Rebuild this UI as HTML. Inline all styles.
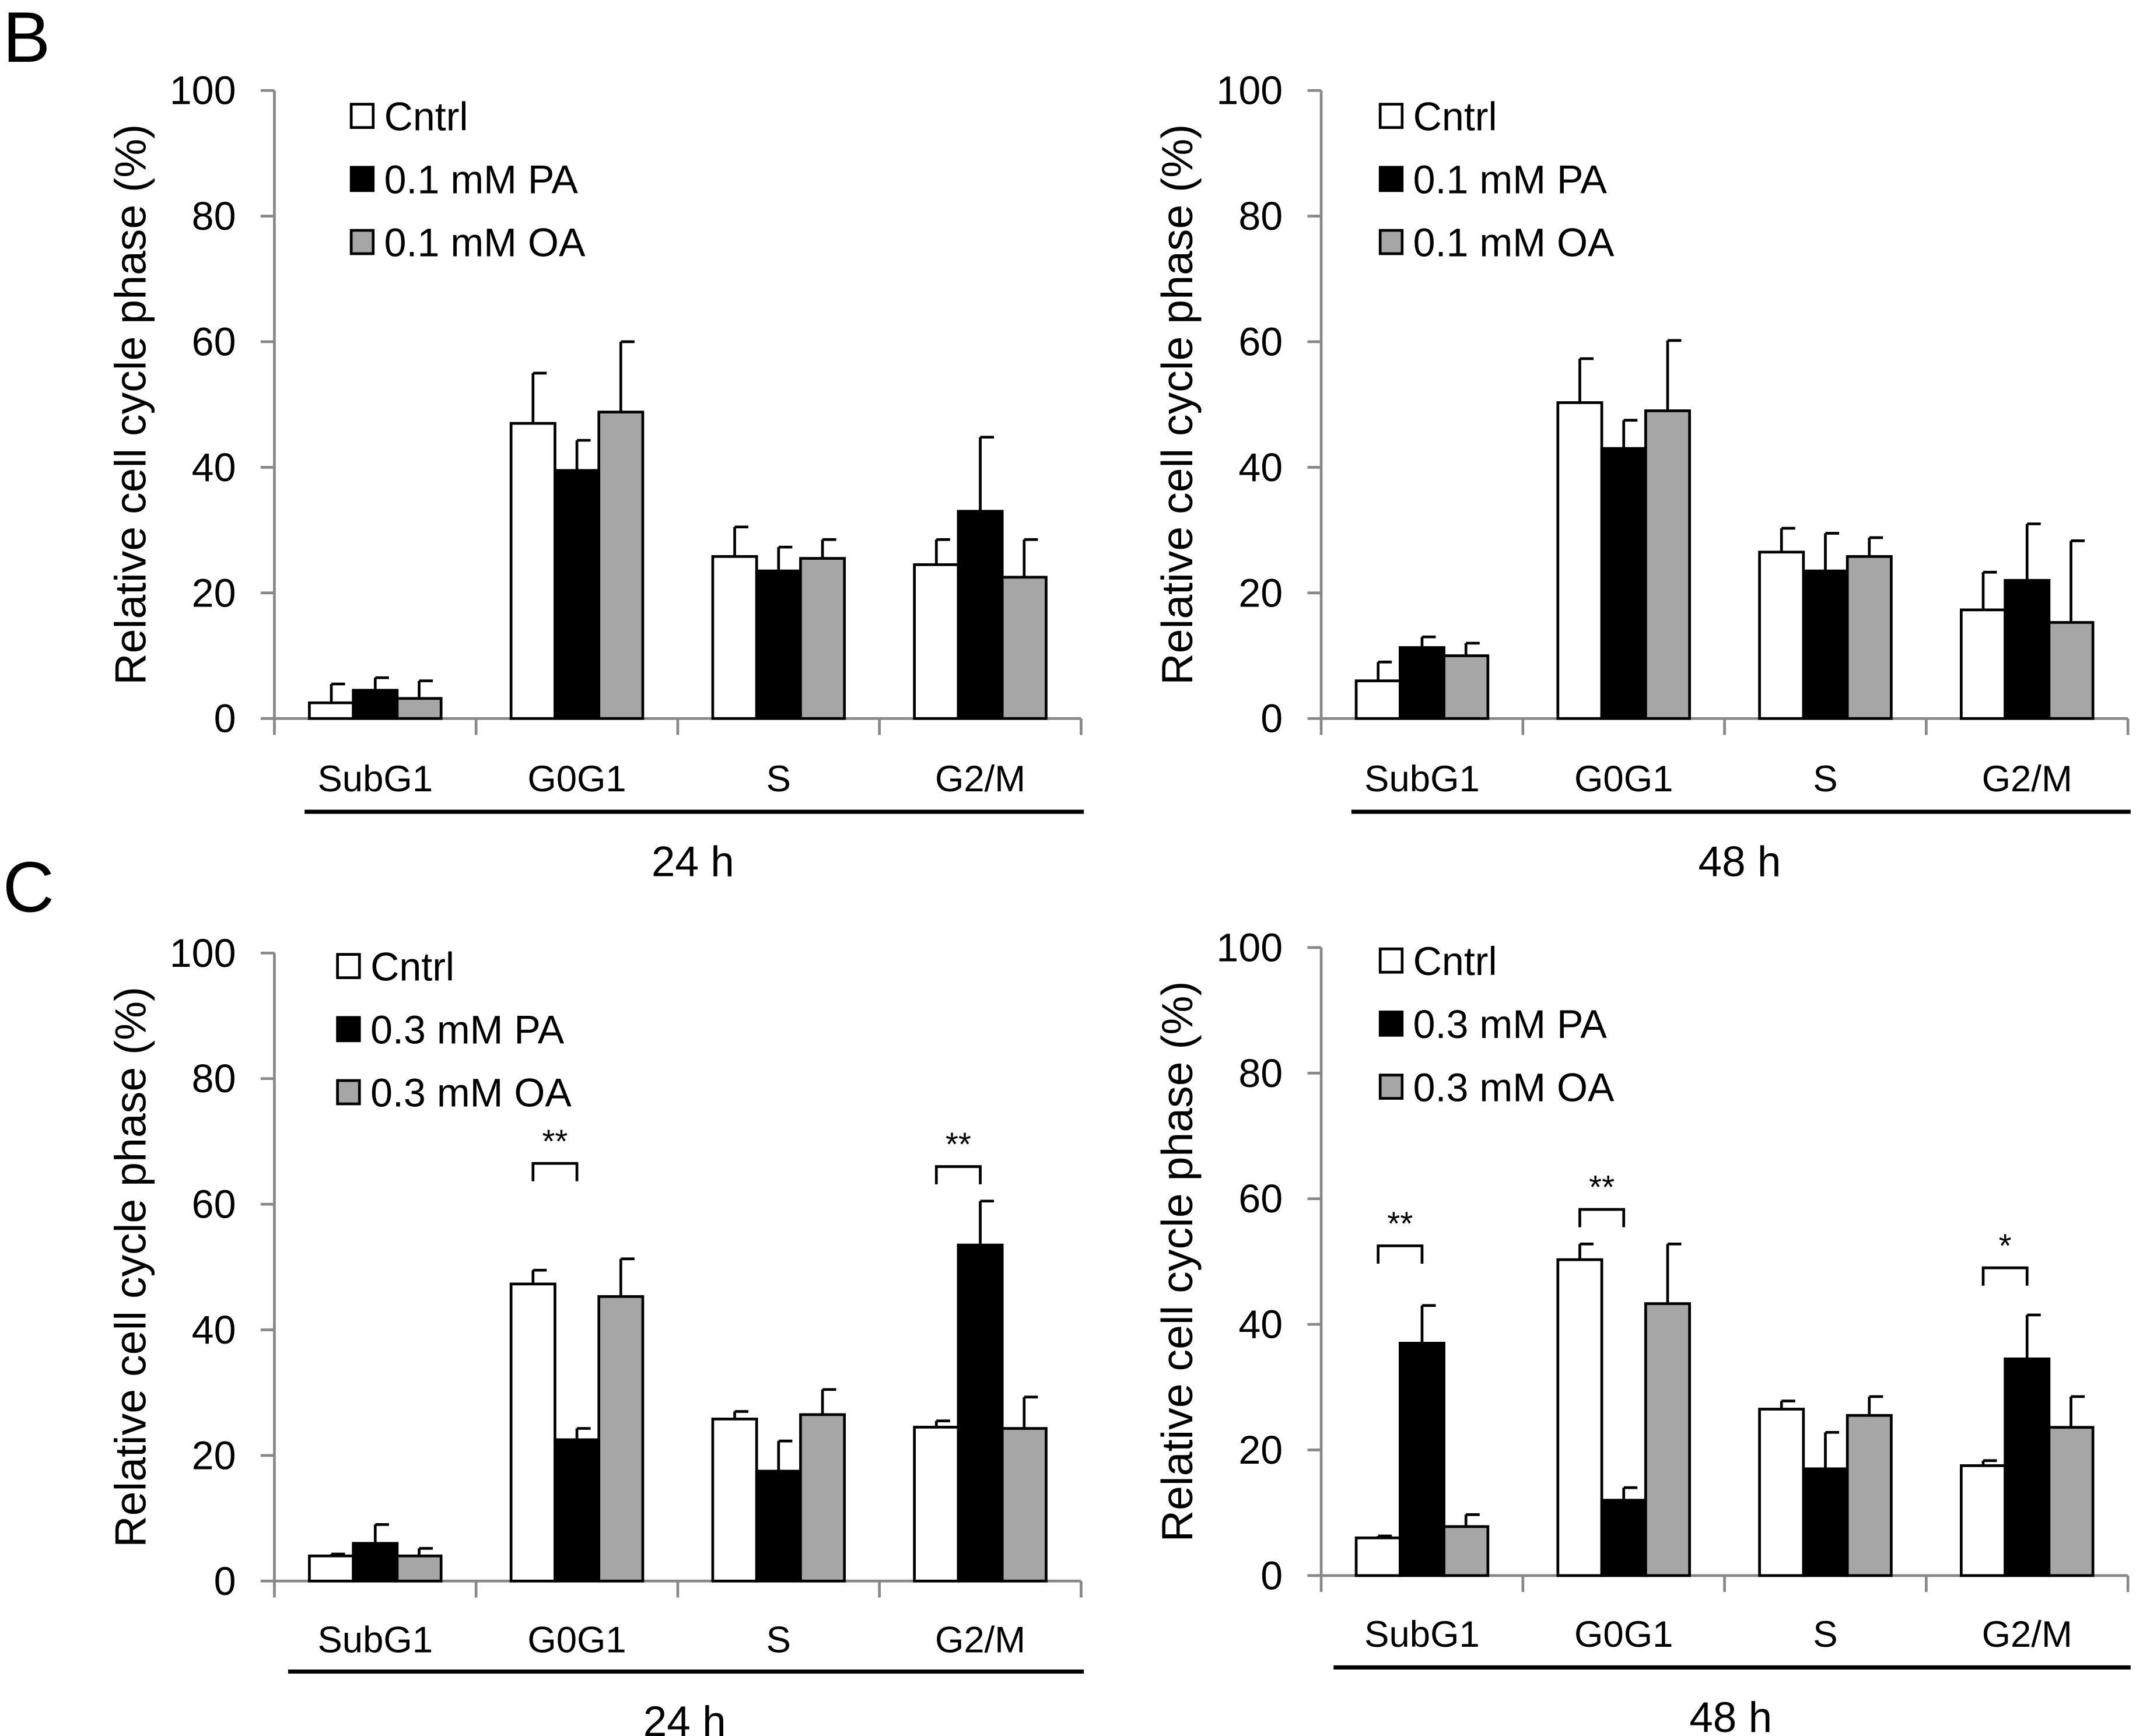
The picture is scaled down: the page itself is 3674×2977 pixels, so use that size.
<!DOCTYPE html>
<html><head><meta charset="utf-8"><style>
html,body{margin:0;padding:0;background:#fff;}
svg{display:block;font-family:"Liberation Sans",sans-serif;}
</style></head><body>
<svg id="fig" width="3674" height="2977" viewBox="0 0 1562 1266" preserveAspectRatio="none" xmlns="http://www.w3.org/2000/svg">
<text x="2" y="45" font-size="52">B</text>
<text x="2" y="665" font-size="52">C</text>
</svg>
<script>
const categories = ["SubG1","G0G1","S","G2/M"];
const bCntrl24 = [2.5,47,25.8,24.5];   const bCntrl24Top = [5.5,55,30.5,28.5];
const bPA24 = [4.5,39.5,23.5,33];      const bPA24Top = [6.5,44.3,27.3,44.8];
const bOA24 = [3.2,48.8,25.5,22.5];    const bOA24Top = [6,60,28.5,28.5];
const bCntrl48 = [6,50.3,26.5,17.3];   const bCntrl48Top = [9,57.3,30.3,23.3];
const bPA48 = [11.3,43,23.5,22];       const bPA48Top = [13,47.5,29.5,31];
const bOA48 = [10,49,25.8,15.3];       const bOA48Top = [12,60.2,28.8,28.3];
const cCntrl24 = [4,47.3,25.8,24.5];   const cCntrl24Top = [4.3,49.5,27,25.5];
const cPA24 = [6,22.5,17.5,53.5];      const cPA24Top = [9,24.3,22.3,60.5];
const cOA24 = [4,45.3,26.5,24.3];      const cOA24Top = [5.2,51.3,30.5,29.3];
const cCntrl48 = [6,50.3,26.5,17.5];   const cCntrl48Top = [6.3,52.8,27.8,18.3];
const cPA48 = [37,12,17,34.5];         const cPA48Top = [43,14,22.8,41.5];
const cOA48 = [7.8,43.3,25.5,23.6];    const cOA48Top = [9.7,52.8,28.5,28.5];
const yTicks = [0,20,40,60,80,100];
const sigC24Cat = [1,3]; const sigC24Val = [66.5,66]; const sigC24Txt = ["**","**"];
const sigC48Cat = [0,1,3]; const sigC48Val = [52.5,58.3,49]; const sigC48Txt = ["**","**","*"];

const NS="http://www.w3.org/2000/svg";
const svg=document.getElementById('fig');
function mk(tag,attrs,parent){const e=document.createElementNS(NS,tag);for(const k in attrs)e.setAttribute(k,attrs[k]);(parent||svg).appendChild(e);return e;}

function panel(p){
  const g=mk('g',{});
  
  
  const ax=p.ax, x1=ax+588, y0=p.y0, sc=4.58;
  const yS=v=>y0-v*sc;
  const gw=(x1-ax)/categories.length;
  const xC=i=>ax+gw*(i+0.5);
  const ya=mk('line',{x1:ax,y1:yS(100),x2:ax,y2:y0,stroke:'#888','stroke-width':2},g);
  
  
  yTicks.forEach(t=>{
    mk('line',{x1:ax-10,x2:ax,y1:yS(t),y2:yS(t),stroke:'#888','stroke-width':2},g);
    const tx=mk('text',{x:ax-28,y:yS(t)+10,'font-size':29,'text-anchor':'end'},g);
    tx.textContent=t;
    
    
  });
  const xa=mk('line',{x1:ax,y1:y0,x2:x1,y2:y0,stroke:'#888','stroke-width':2},g);
  
  
  for(let i=0;i<=categories.length;i++){mk('line',{x1:ax+gw*i,x2:ax+gw*i,y1:y0,y2:y0+12,stroke:'#888','stroke-width':2},g);}
  const fills=['#fff','#000','#a6a6a6'];
  const bw=32;
  categories.forEach((c,i)=>{
    p.series.forEach((s,j)=>{
      const bx=xC(i)+(j-1.5)*bw;
      const top=s.top[i];
      mk('line',{x1:bx+bw/2,x2:bx+bw/2,y1:yS(top),y2:yS(s.v[i]),stroke:'#000','stroke-width':2},g);
      mk('line',{x1:bx+bw/2,x2:bx+bw/2+10,y1:yS(top),y2:yS(top),stroke:'#000','stroke-width':2},g);
      const r=mk('rect',{x:bx,y:yS(s.v[i]),width:bw,height:s.v[i]*sc,fill:fills[j],stroke:'#000','stroke-width':2},g);
      
      
    });
    const ct=mk('text',{x:xC(i),y:p.catY,'font-size':27,'text-anchor':'middle'},g);
    ct.textContent=c;
    
    
  });
  mk('line',{x1:p.ulx,x2:x1+2,y1:p.ulY,y2:p.ulY,stroke:'#000','stroke-width':3},g);
  const tl=mk('text',{x:(p.ulx+x1)/2,y:p.ulY+47,'font-size':31,'text-anchor':'middle'},g);
  tl.textContent=p.time;
  
  
  const yt=mk('text',{transform:`translate(${ax-94},${yS(50)}) rotate(-90)`,'font-size':32,'text-anchor':'middle'},g);
  yt.textContent='Relative cell cycle phase (%)';
  
  
  p.series.forEach((s,j)=>{
    const ly=p.legY+46*j;
    const lr=mk('rect',{x:ax+p.legDx,y:ly-9,width:16,height:17,fill:fills[j],stroke:'#000','stroke-width':2},g);
    
    
    const lt=mk('text',{x:ax+p.legDx+24,y:ly+10,'font-size':29},g);
    lt.textContent=s.label;
    
    
  });
  (p.sigCat||[]).forEach((ci,k)=>{
    const xa0=xC(ci)-1.5*bw+bw/2, xb=xC(ci)-0.5*bw+bw/2, yy=yS(p.sigVal[k]);
    const br=mk('path',{d:`M${xa0},${yy+13}V${yy}H${xb}V${yy+13}`,fill:'none',stroke:'#000','stroke-width':2},g);
    
    
    const st=mk('text',{x:(xa0+xb)/2,y:yy-8,'font-size':24,'text-anchor':'middle'},g);
    st.textContent=p.sigTxt[k];
    
    
  });
}
panel({name:'panel-b-24h',ax:200,y0:524,catY:577,ulx:222,ulY:592,time:'24 h',legY:85,legDx:56,
  series:[{key:'cntrl',label:'Cntrl',v:bCntrl24,top:bCntrl24Top},{key:'pa',label:'0.1 mM PA',v:bPA24,top:bPA24Top},{key:'oa',label:'0.1 mM OA',v:bOA24,top:bOA24Top}]});
panel({name:'panel-b-48h',ax:963,y0:524,catY:577,ulx:985,ulY:592,time:'48 h',legY:85,legDx:43,
  series:[{key:'cntrl',label:'Cntrl',v:bCntrl48,top:bCntrl48Top},{key:'pa',label:'0.1 mM PA',v:bPA48,top:bPA48Top},{key:'oa',label:'0.1 mM OA',v:bOA48,top:bOA48Top}]});
panel({name:'panel-c-24h',ax:200,y0:1153,catY:1205,ulx:210,ulY:1219,time:'24 h',legY:705,legDx:46,
  sigCat:sigC24Cat,sigVal:sigC24Val,sigTxt:sigC24Txt,
  series:[{key:'cntrl',label:'Cntrl',v:cCntrl24,top:cCntrl24Top},{key:'pa',label:'0.3 mM PA',v:cPA24,top:cPA24Top},{key:'oa',label:'0.3 mM OA',v:cOA24,top:cOA24Top}]});
panel({name:'panel-c-48h',ax:963,y0:1149,catY:1201,ulx:972,ulY:1216,time:'48 h',legY:701,legDx:43,
  sigCat:sigC48Cat,sigVal:sigC48Val,sigTxt:sigC48Txt,
  series:[{key:'cntrl',label:'Cntrl',v:cCntrl48,top:cCntrl48Top},{key:'pa',label:'0.3 mM PA',v:cPA48,top:cPA48Top},{key:'oa',label:'0.3 mM OA',v:cOA48,top:cOA48Top}]});
</script>
</body></html>
